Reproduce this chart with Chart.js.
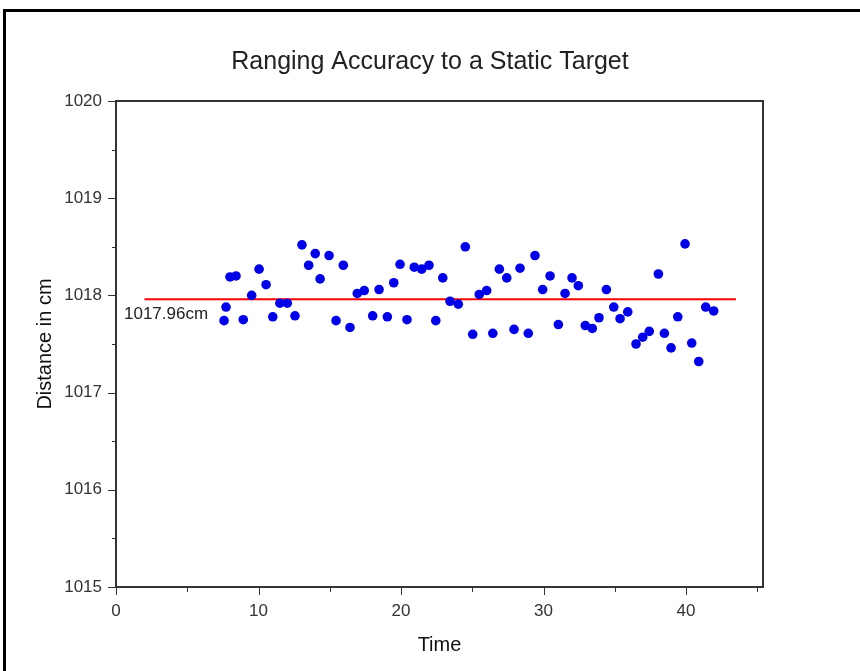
<!DOCTYPE html>
<html><head><meta charset="utf-8">
<script src="https://cdn.jsdelivr.net/npm/chart.js@4.4.1/dist/chart.umd.min.js"></script>
<style>
html,body{margin:0;padding:0;background:#fff;}
#wrap{position:relative;width:860px;height:671px;overflow:hidden;background:#fff;}
#frame{position:absolute;left:3px;top:9px;width:900px;height:720px;border:3px solid #000;box-sizing:border-box;}
canvas{position:absolute;left:0;top:0;}
</style></head><body>
<div id="wrap"><div id="frame"></div><canvas id="c" width="860" height="671"></canvas></div>
<script>
const chartTitle = 'Ranging Accuracy to a Static Target';
const xAxisTitle = 'Time';
const yAxisTitle = 'Distance in cm';
const timeValues = [7.58, 7.72, 8.0, 8.42, 8.93, 9.52, 10.04, 10.53, 11.0, 11.5, 12.02, 12.56, 13.05, 13.52, 13.98, 14.32, 14.95, 15.44, 15.95, 16.42, 16.93, 17.42, 18.01, 18.46, 19.04, 19.49, 19.93, 20.42, 20.93, 21.45, 21.96, 22.44, 22.93, 23.44, 24.02, 24.51, 25.03, 25.49, 26.01, 26.44, 26.9, 27.42, 27.93, 28.35, 28.93, 29.40, 29.94, 30.46, 31.04, 31.51, 32.0, 32.44, 32.93, 33.42, 33.89, 34.41, 34.93, 35.37, 35.91, 36.49, 36.96, 37.42, 38.06, 38.48, 38.95, 39.42, 39.93, 40.4, 40.89, 41.38, 41.94];
const distanceValues = [1017.74, 1017.88, 1018.19, 1018.20, 1017.75, 1018.00, 1018.27, 1018.11, 1017.78, 1017.92, 1017.92, 1017.79, 1018.52, 1018.31, 1018.43, 1018.17, 1018.41, 1017.74, 1018.31, 1017.67, 1018.02, 1018.05, 1017.79, 1018.06, 1017.78, 1018.13, 1018.32, 1017.75, 1018.29, 1018.27, 1018.31, 1017.74, 1018.18, 1017.94, 1017.91, 1018.50, 1017.60, 1018.01, 1018.05, 1017.61, 1018.27, 1018.18, 1017.65, 1018.28, 1017.61, 1018.41, 1018.06, 1018.20, 1017.70, 1018.02, 1018.18, 1018.10, 1017.69, 1017.66, 1017.77, 1018.06, 1017.88, 1017.76, 1017.83, 1017.50, 1017.57, 1017.63, 1018.22, 1017.61, 1017.46, 1017.78, 1018.53, 1017.51, 1017.32, 1017.88, 1017.84];
const meanValue = 1017.96;
const meanLineTimes = [2, 43.5];
const meanLabel = '1017.96cm';
const xRange = [0, 45.4];
const yRange = [1015, 1020];
const xMajorStep = 10, xMinorStep = 5;
const yMajorStep = 1, yMinorStep = 0.5;

const FONT = "'Liberation Sans', Arial, sans-serif";

const points = timeValues.map((t, i) => ({x: t, y: distanceValues[i]}));
const meanLine = meanLineTimes.map(t => ({x: t, y: meanValue}));

const decorPlugin = {
  id: 'decor',
  afterDraw(chart) {
    const ctx = chart.ctx;
    const a = chart.chartArea;
    const xs = chart.scales.x, ys = chart.scales.y;
    ctx.save();
    // plot box
    ctx.strokeStyle = '#333';
    ctx.lineWidth = 2;
    ctx.strokeRect(a.left, a.top, a.right - a.left, a.bottom - a.top);
    // ticks
    ctx.lineWidth = 1;
    ctx.strokeStyle = '#333';
    for (let v = yRange[0]; v <= yRange[1] + 1e-9; v += yMinorStep) {
      const py = Math.round(ys.getPixelForValue(v)) + 0.5;
      const major = Math.abs(v - Math.round(v / yMajorStep) * yMajorStep) < 1e-6;
      const len = major ? 8 : 4;
      ctx.beginPath(); ctx.moveTo(a.left - len, py); ctx.lineTo(a.left, py); ctx.stroke();
    }
    for (let v = xRange[0]; v <= xRange[1] + 1e-9; v += xMinorStep) {
      const px = Math.round(xs.getPixelForValue(v)) + 0.5;
      const major = Math.abs(v - Math.round(v / xMajorStep) * xMajorStep) < 1e-6;
      const len = major ? 8 : 5;
      ctx.beginPath(); ctx.moveTo(px, a.bottom); ctx.lineTo(px, a.bottom + len); ctx.stroke();
    }
    // mean label
    ctx.fillStyle = '#222';
    ctx.font = '17px ' + FONT;
    ctx.textAlign = 'left';
    ctx.textBaseline = 'middle';
    ctx.fillText(meanLabel, a.left + 8, ys.getPixelForValue(meanValue) + 15);
    ctx.restore();
  }
};

new Chart(document.getElementById('c'), {
  type: 'scatter',
  data: {
    datasets: [
      {
        type: 'line',
        data: meanLine,
        borderColor: '#ff0000',
        borderWidth: 2,
        pointRadius: 0,
        fill: false,
        order: 2
      },
      {
        data: points,
        backgroundColor: '#0000e8',
        borderColor: '#0000e8',
        borderWidth: 0,
        pointRadius: 4.8,
        order: 1
      }
    ]
  },
  options: {
    responsive: false,
    animation: false,
    layout: {padding: {left: 0, right: 0, top: 0, bottom: 0}},
    plugins: {
      legend: {display: false},
      tooltip: {enabled: false},
      title: {
        display: true,
        text: chartTitle,
        color: '#222',
        font: {family: FONT, size: 25, weight: 'normal'},
        padding: {top: 47, bottom: 24}
      }
    },
    scales: {
      x: {
        type: 'linear',
        position: 'bottom',
        min: xRange[0], max: xRange[1],
        grid: {display: false, drawTicks: false},
        border: {display: false},
        ticks: {
          stepSize: xMajorStep,
          includeBounds: false,
          padding: 14,
          color: '#333',
          font: {family: FONT, size: 17},
          callback: v => String(v)
        },
        title: {
          display: true, text: xAxisTitle, color: '#111',
          font: {family: FONT, size: 20},
          padding: {top: 0, bottom: 14}
        },
        afterFit: s => { s.height = 84; }
      },
      y: {
        type: 'linear',
        position: 'left',
        min: yRange[0], max: yRange[1],
        grid: {display: false, drawTicks: false},
        border: {display: false},
        ticks: {
          stepSize: yMajorStep,
          padding: 14,
          color: '#333',
          font: {family: FONT, size: 17},
          callback: v => String(v)
        },
        title: {
          display: true, text: yAxisTitle, color: '#111',
          font: {family: FONT, size: 20},
          padding: {top: 33, bottom: 0}
        },
        afterFit: s => { s.width = 116; }
      },
      yRight: {
        type: 'linear',
        position: 'right',
        display: true,
        grid: {display: false, drawTicks: false},
        border: {display: false},
        ticks: {display: false},
        afterFit: s => { s.width = 97; }
      }
    }
  },
  plugins: [decorPlugin]
});
</script>
</body></html>
